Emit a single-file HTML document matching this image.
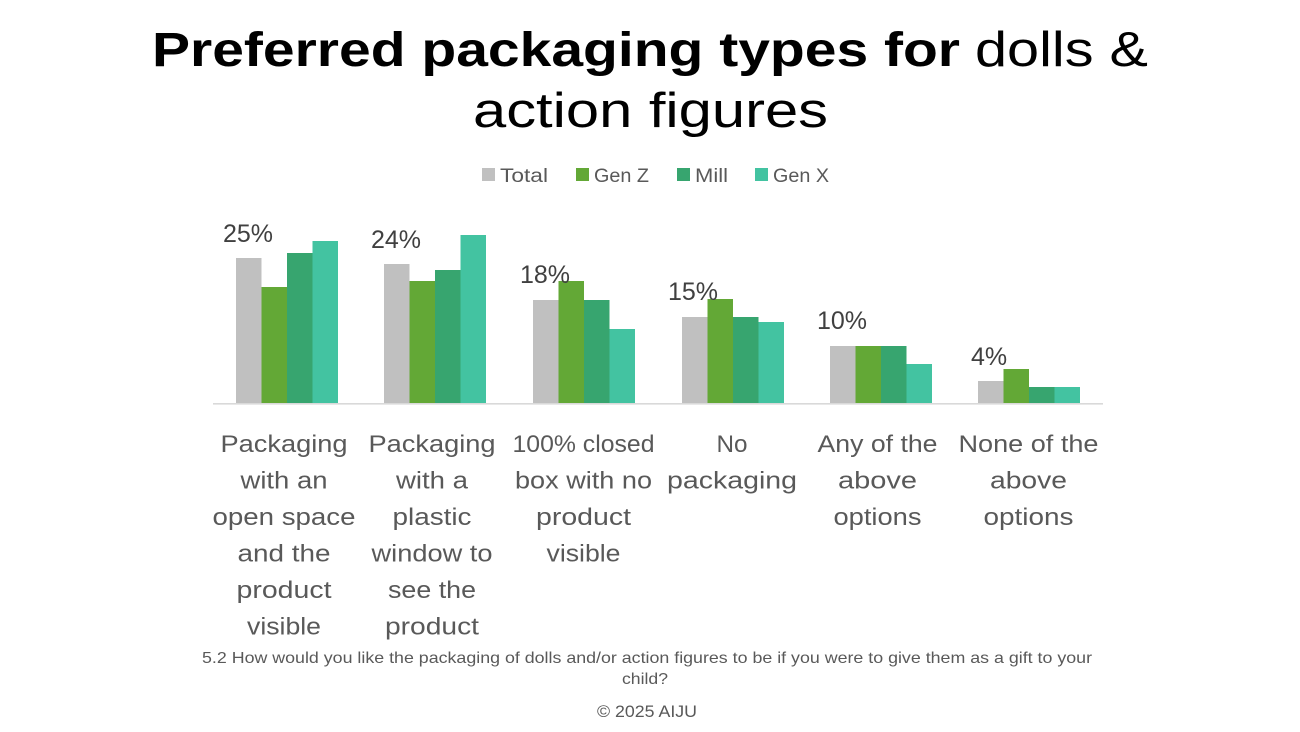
<!DOCTYPE html>
<html>
<head>
<meta charset="utf-8">
<style>
  html, body { margin: 0; padding: 0; background: #ffffff; }
  body { width: 1300px; height: 732px; overflow: hidden; }
  svg { display: block; }
  .t { font-family: "Liberation Sans", Arial, sans-serif; }
</style>
</head>
<body>
<svg width="1300" height="732" viewBox="0 0 1300 732" xmlns="http://www.w3.org/2000/svg">
  <rect x="0" y="0" width="1300" height="732" fill="#ffffff"/>

  <!-- Title -->
  <text class="t" x="152" y="66" font-size="48" font-weight="bold" fill="#000" textLength="808" lengthAdjust="spacingAndGlyphs">Preferred packaging types for</text>
  <text class="t" x="975" y="66" font-size="49" fill="#000" textLength="173" lengthAdjust="spacingAndGlyphs">dolls &amp;</text>
  <text class="t" x="473" y="127" font-size="49" fill="#000" textLength="355" lengthAdjust="spacingAndGlyphs">action figures</text>

  <!-- Legend -->
  <rect x="482" y="168" width="13" height="13" fill="#c0c0c0"/>
  <text class="t" x="500" y="182" font-size="19" fill="#595959" textLength="48" lengthAdjust="spacingAndGlyphs">Total</text>
  <rect x="576" y="168" width="13" height="13" fill="#63a836"/>
  <text class="t" x="594" y="182" font-size="19" fill="#595959" textLength="55" lengthAdjust="spacingAndGlyphs">Gen Z</text>
  <rect x="677" y="168" width="13" height="13" fill="#37a56f"/>
  <text class="t" x="695" y="182" font-size="19" fill="#595959" textLength="33" lengthAdjust="spacingAndGlyphs">Mill</text>
  <rect x="755" y="168" width="13" height="13" fill="#43c3a1"/>
  <text class="t" x="773" y="182" font-size="19" fill="#595959" textLength="56" lengthAdjust="spacingAndGlyphs">Gen X</text>

  <!-- Bars -->
  <!-- Group 1 -->
  <rect x="236" y="258" width="25.5" height="145" fill="#c0c0c0"/>
  <rect x="261.5" y="287" width="25.5" height="116" fill="#63a836"/>
  <rect x="287" y="253" width="25.5" height="150" fill="#37a56f"/>
  <rect x="312.5" y="241" width="25.5" height="162" fill="#43c3a1"/>
  <!-- Group 2 -->
  <rect x="384" y="264" width="25.5" height="139" fill="#c0c0c0"/>
  <rect x="409.5" y="281" width="25.5" height="122" fill="#63a836"/>
  <rect x="435" y="270" width="25.5" height="133" fill="#37a56f"/>
  <rect x="460.5" y="235" width="25.5" height="168" fill="#43c3a1"/>
  <!-- Group 3 -->
  <rect x="533" y="300" width="25.5" height="103" fill="#c0c0c0"/>
  <rect x="558.5" y="281" width="25.5" height="122" fill="#63a836"/>
  <rect x="584" y="300" width="25.5" height="103" fill="#37a56f"/>
  <rect x="609.5" y="329" width="25.5" height="74" fill="#43c3a1"/>
  <!-- Group 4 -->
  <rect x="682" y="317" width="25.5" height="86" fill="#c0c0c0"/>
  <rect x="707.5" y="299" width="25.5" height="104" fill="#63a836"/>
  <rect x="733" y="317" width="25.5" height="86" fill="#37a56f"/>
  <rect x="758.5" y="322" width="25.5" height="81" fill="#43c3a1"/>
  <!-- Group 5 -->
  <rect x="830" y="346" width="25.5" height="57" fill="#c0c0c0"/>
  <rect x="855.5" y="346" width="25.5" height="57" fill="#63a836"/>
  <rect x="881" y="346" width="25.5" height="57" fill="#37a56f"/>
  <rect x="906.5" y="364" width="25.5" height="39" fill="#43c3a1"/>
  <!-- Group 6 -->
  <rect x="978" y="381" width="25.5" height="22" fill="#c0c0c0"/>
  <rect x="1003.5" y="369" width="25.5" height="34" fill="#63a836"/>
  <rect x="1029" y="387" width="25.5" height="16" fill="#37a56f"/>
  <rect x="1054.5" y="387" width="25.5" height="16" fill="#43c3a1"/>

  <!-- Axis line -->
  <rect x="213" y="403" width="890" height="1.6" fill="#d9d9d9"/>

  <!-- Data labels -->
  <g class="t" font-size="25" fill="#404040">
    <text x="223" y="242">25%</text>
    <text x="371" y="248">24%</text>
    <text x="520" y="283">18%</text>
    <text x="668" y="300">15%</text>
    <text x="817" y="329">10%</text>
    <text x="971" y="365">4%</text>
  </g>

  <!-- Category labels -->
  <g class="t" font-size="24" fill="#595959">
    <!-- G1 center 284 -->
    <text x="220.5" y="452" textLength="127" lengthAdjust="spacingAndGlyphs">Packaging</text>
    <text x="240.5" y="488.5" textLength="87" lengthAdjust="spacingAndGlyphs">with an</text>
    <text x="212.5" y="525" textLength="143" lengthAdjust="spacingAndGlyphs">open space</text>
    <text x="237.5" y="561.5" textLength="93" lengthAdjust="spacingAndGlyphs">and the</text>
    <text x="236.5" y="598" textLength="95" lengthAdjust="spacingAndGlyphs">product</text>
    <text x="247" y="634.5" textLength="74" lengthAdjust="spacingAndGlyphs">visible</text>
    <!-- G2 center 432 -->
    <text x="368.5" y="452" textLength="127" lengthAdjust="spacingAndGlyphs">Packaging</text>
    <text x="396" y="488.5" textLength="72" lengthAdjust="spacingAndGlyphs">with a</text>
    <text x="392.5" y="525" textLength="79" lengthAdjust="spacingAndGlyphs">plastic</text>
    <text x="371.5" y="561.5" textLength="121" lengthAdjust="spacingAndGlyphs">window to</text>
    <text x="388" y="598" textLength="88" lengthAdjust="spacingAndGlyphs">see the</text>
    <text x="385" y="634.5" textLength="94" lengthAdjust="spacingAndGlyphs">product</text>
    <!-- G3 center 583.5 -->
    <text x="512.5" y="452" textLength="142" lengthAdjust="spacingAndGlyphs">100% closed</text>
    <text x="515" y="488.5" textLength="137" lengthAdjust="spacingAndGlyphs">box with no</text>
    <text x="536" y="525" textLength="95" lengthAdjust="spacingAndGlyphs">product</text>
    <text x="546.5" y="561.5" textLength="74" lengthAdjust="spacingAndGlyphs">visible</text>
    <!-- G4 center 732 -->
    <text x="716.5" y="452" textLength="31" lengthAdjust="spacingAndGlyphs">No</text>
    <text x="667" y="488.5" textLength="130" lengthAdjust="spacingAndGlyphs">packaging</text>
    <!-- G5 center 877.5 -->
    <text x="817.5" y="452" textLength="120" lengthAdjust="spacingAndGlyphs">Any of the</text>
    <text x="838" y="488.5" textLength="79" lengthAdjust="spacingAndGlyphs">above</text>
    <text x="833.5" y="525" textLength="88" lengthAdjust="spacingAndGlyphs">options</text>
    <!-- G6 center 1028.5 -->
    <text x="958.5" y="452" textLength="140" lengthAdjust="spacingAndGlyphs">None of the</text>
    <text x="990" y="488.5" textLength="77" lengthAdjust="spacingAndGlyphs">above</text>
    <text x="983.5" y="525" textLength="90" lengthAdjust="spacingAndGlyphs">options</text>
  </g>

  <!-- Footer -->
  <g class="t" font-size="16" fill="#595959">
    <text x="202" y="663" textLength="890" lengthAdjust="spacingAndGlyphs">5.2 How would you like the packaging of dolls and/or action figures to be if you were to give them as a gift to your</text>
    <text x="622" y="684" textLength="46" lengthAdjust="spacingAndGlyphs">child?</text>
    <text x="597" y="717" font-size="17" textLength="100" lengthAdjust="spacingAndGlyphs">© 2025 AIJU</text>
  </g>
</svg>
</body>
</html>
